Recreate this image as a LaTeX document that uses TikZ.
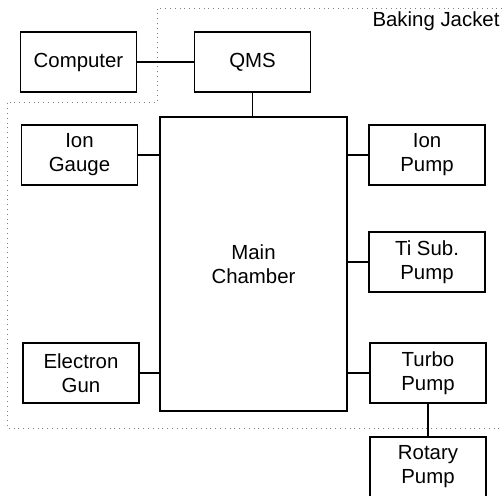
\documentclass[tikz,border=0pt]{standalone}
\usepackage{fontspec}
\setmainfont{Liberation Sans}
\begin{document}
\begin{tikzpicture}[
    x=0.5pt, y=-0.5pt,
    font=\fontsize{10.2}{12}\selectfont,
    unit/.style={draw, line width=0.7pt, minimum width=58pt, minimum height=30pt, align=center, inner sep=0pt},
    chamber/.style={unit, minimum width=93.5pt, minimum height=147pt},
    link/.style={line width=0.6pt},
    jacket/.style={line width=0.4pt, dotted, gray},
]
    \useasboundingbox (0,0) rectangle (502,496);

    % Baking jacket
    \draw[jacket] (502,8) -| (157,102) -| (7,428) -- (502,428);
    \node (bj) at (436,21) {Baking Jacket};

    % Units
    \node[unit] (comp) at (78.5,62) {Computer};
    \node[unit] (qms) at (252.5,62) {QMS};
    \node[chamber] (main) at (253.5,264) {Main\\Chamber};
    \node[unit] (gauge) at (79.5,155) {Ion\\Gauge};
    \node[unit] (egun) at (81,373) {Electron\\Gun};
    \node[unit] (ipump) at (427,155) {Ion\\Pump};
    \node[unit] (tisub) at (427,262) {Ti Sub.\\Pump};
    \node[unit] (turbo) at (428,373) {Turbo\\Pump};
    \node[unit] (rotary) at (428,467) {Rotary\\Pump};

    % Connections
    \draw[link] (comp) -- (qms);
    \draw[link] (qms) -- (qms |- main.north);
    \draw[link] (gauge) -- (gauge -| main.west);
    \draw[link] (egun) -- (egun -| main.west);
    \foreach \u in {ipump,tisub,turbo}
        \draw[link] (\u) -- (\u -| main.east);
    \draw[link] (turbo) -- (rotary);
\end{tikzpicture}
\end{document}
